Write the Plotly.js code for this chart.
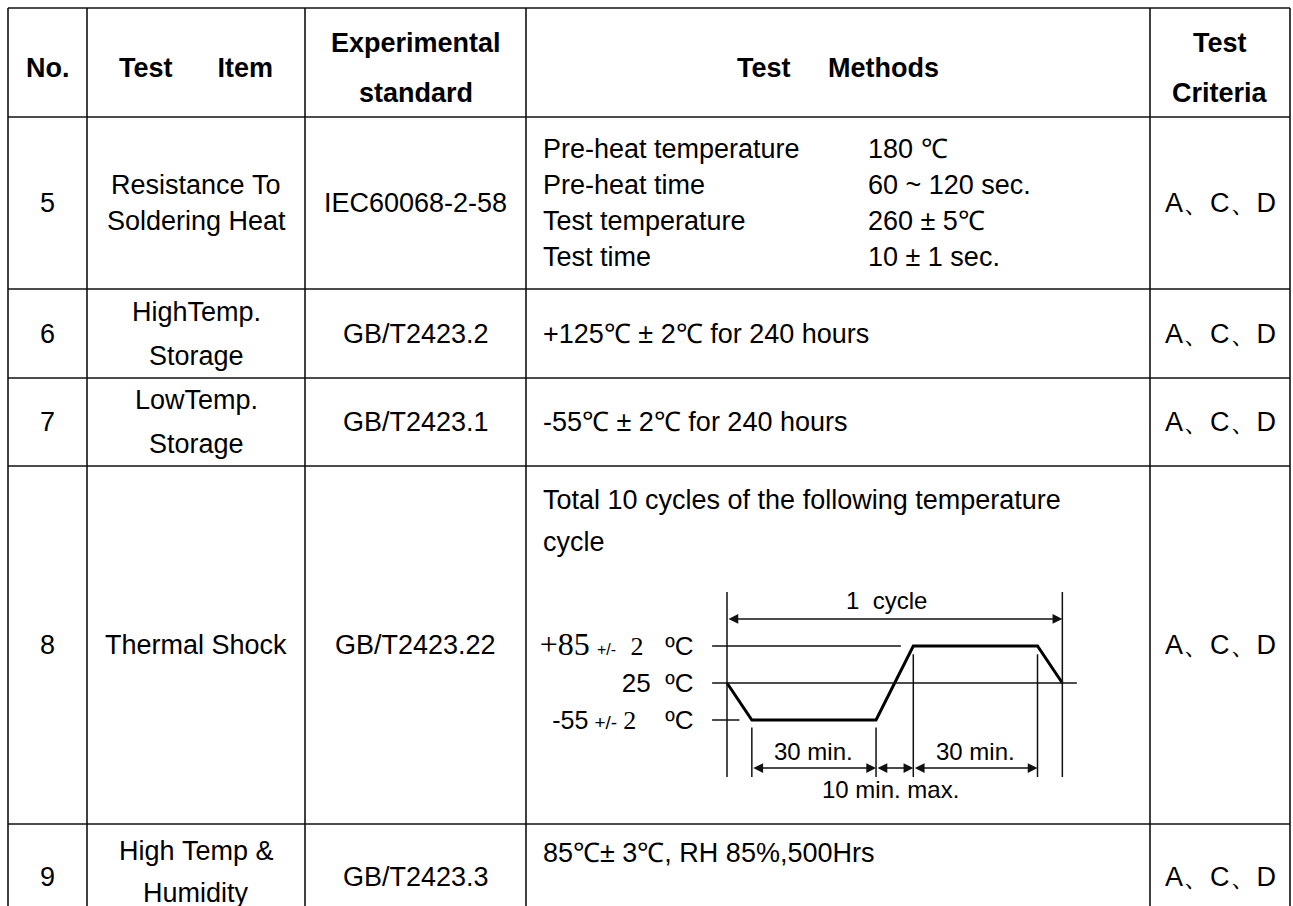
<!DOCTYPE html>
<html>
<head>
<meta charset="utf-8">
<script src="https://cdn.plot.ly/plotly-3.0.1.min.js"></script>
<style>
html,body{margin:0;padding:0;background:#fff;}
#chart{width:1293px;height:906px;}
</style>
</head>
<body>
<div id="chart"></div>
<script>
// ---------------- data ----------------
const headerLines = [['No.'], ['Test      Item'], ['Experimental', 'standard'], ['Test     Methods'], ['Test', 'Criteria']];
const testNos = ['5', '6', '7', '8', '9'];
const testItems = [['Resistance To', 'Soldering Heat'], ['HighTemp.', 'Storage'], ['LowTemp.', 'Storage'], ['Thermal Shock'], ['High Temp &', 'Humidity']];
const standards = ['IEC60068-2-58', 'GB/T2423.2', 'GB/T2423.1', 'GB/T2423.22', 'GB/T2423.3'];
const criteria = ['A、C、D', 'A、C、D', 'A、C、D', 'A、C、D', 'A、C、D'];
const solderParams = ['Pre-heat temperature', 'Pre-heat time', 'Test temperature', 'Test time'];
const solderValues = ['180 ℃', '60 ~ 120 sec.', '260 ± 5℃', '10 ± 1 sec.'];
const storageMethods = ['+125℃ ± 2℃ for 240 hours', '-55℃ ± 2℃ for 240 hours'];
const shockIntro = ['Total 10 cycles of the following temperature', 'cycle'];
const humidityMethod = '85℃± 3℃, RH 85%,500Hrs';

// thermal shock cycle (minutes, temperature level)
const cycleMinutes = [0, 6, 36, 45, 75, 81];
const cycleLevels = ['25', '-55', '-55', '+85', '+85', '25'];
const tempLevels = ['-55', '25', '+85'];
const tempLabelParts = [
  [['-55', 'sans', 25], [' ', 'sans', 22], ['+/-', 'sans', 19], [' ', 'sans', 22], ['2', 'serif', 26], ['    ', 'sans', 26], ['ºC', 'sans', 26]],
  [['25', 'sans', 26], ['  ', 'sans', 26], ['ºC', 'sans', 26]],
  [['+85', 'serif', 32], [' ', 'sans', 26], ['+/-', 'sans', 16], ['  ', 'sans', 26], ['2', 'serif', 26], ['   ', 'sans', 26], ['ºC', 'sans', 26]]
];
const cycleLabel = '1  cycle';
const dwellLabels = ['30 min.', '30 min.'];
const transferLabel = '10 min. max.';

// ---------------- layout constants ----------------
const W = 1293, H = 906;
const SANS = 'Liberation Sans, Arial, Helvetica, sans-serif';
const SERIF = 'Liberation Serif, Times New Roman, serif';
const colX = [8, 87, 305, 526, 1150, 1290];
const rowY = [8, 117, 289, 378, 466, 824, 930];
const padL = 15;
const FS = 27;

const nb = s => s.replace(/ /g, '\u00a0');
const colC = i => (colX[i] + colX[i + 1]) / 2;
const rowC = i => (rowY[i] + rowY[i + 1]) / 2;

const ann = [];
function txt(x, y, text, o) {
  ann.push(Object.assign({
    xref: 'x', yref: 'y', x: x, y: y, text: nb(text), showarrow: false,
    xanchor: 'center', yanchor: 'middle',
    font: {family: SANS, size: FS, color: '#000'}
  }, o || {}));
}

// header
const hMid = rowC(0) + 5;
headerLines.forEach((lines, c) => {
  if (lines.length === 1) {
    txt(colC(c), hMid, '<b>' + nb(lines[0]) + '</b>');
  } else {
    txt(colC(c), hMid - 25, '<b>' + lines[0] + '</b>');
    txt(colC(c), hMid + 25, '<b>' + lines[1] + '</b>');
  }
});

// body rows
const itemPitch = [36, 44, 44, 0, 42];
const itemShift = [0, 0, 0, 0, -5];
testNos.forEach((n, r) => {
  const cy = rowC(r + 1);
  txt(colC(0), cy, n);
  const it = testItems[r];
  const iy = cy + itemShift[r];
  if (it.length === 1) txt(colC(1), iy, it[0]);
  else {
    txt(colC(1), iy - itemPitch[r] / 2, it[0]);
    txt(colC(1), iy + itemPitch[r] / 2, it[1]);
  }
  txt(colC(2), cy, standards[r]);
  txt(colC(4), cy, criteria[r]);
});
// row 5 methods
const r5 = rowC(1);
solderParams.forEach((p, i) => {
  const y = r5 + (i - 1.5) * 36;
  txt(colX[3] + padL, y, p, {xanchor: 'left'});
  txt(866, y, solderValues[i], {xanchor: 'left'});
});
// rows 6,7
storageMethods.forEach((m, i) => txt(colX[3] + padL, rowC(2 + i), m, {xanchor: 'left'}));
// row 8 intro
shockIntro.forEach((m, i) => txt(colX[3] + padL, rowY[4] + 34 + i * 42, m, {xanchor: 'left'}));
// row 9
txt(colX[3] + padL, rowY[5] + 29, humidityMethod, {xanchor: 'left'});

// table grid
const shapes = [];
const LW = 1.6, LC = '#111';
colX.forEach(x => shapes.push({type: 'line', xref: 'x', yref: 'y', x0: x, x1: x, y0: rowY[0], y1: H + 20, line: {color: LC, width: LW}}));
rowY.slice(0, 6).forEach(y => shapes.push({type: 'line', xref: 'x', yref: 'y', x0: colX[0], x1: colX[5], y0: y, y1: y, line: {color: LC, width: LW}}));

// ---------------- diagram axes ----------------
const t0px = 727, pxPerMin = 4.14, tMin = -4, tMax = 85;
const lvl1px = 683, pxPerLvl = 37, lMin = -2.3, lMax = 3.7;
const xd0 = (t0px + tMin * pxPerMin) / W, xd1 = (t0px + tMax * pxPerMin) / W;
const yTopPx = lvl1px - (lMax - 1) * pxPerLvl, yBotPx = lvl1px + (1 - lMin) * pxPerLvl;
const yd0 = 1 - yBotPx / H, yd1 = 1 - yTopPx / H;
const L = v => tempLevels.indexOf(v);

const fam = k => (k === 'serif' ? SERIF : SANS);
const tempLabels = tempLabelParts.map(parts => parts.map(p =>
  '<span style="font-family:' + fam(p[1]) + ';font-size:' + p[2] + 'px">' + nb(p[0]) + '</span>').join(''));

function dline(x0, x1, y0, y1, w) {
  shapes.push({type: 'line', xref: 'x2', yref: 'y2', x0: x0, x1: x1, y0: y0, y1: y1, line: {color: '#111', width: w || 1.5}});
}
const lineStart = -3.6;
dline(lineStart, 42, L('+85'), L('+85'));
dline(lineStart, 84.5, L('25'), L('25'));
dline(lineStart, 3, L('-55'), L('-55'));
// vertical markers
const tallTop = 3.46, tallBot = -1.54;
dline(cycleMinutes[0], cycleMinutes[0], tallBot, tallTop);
dline(cycleMinutes[5], cycleMinutes[5], tallBot, tallTop);
dline(cycleMinutes[1], cycleMinutes[1], tallBot, L('-55') - 0.2);
dline(cycleMinutes[2], cycleMinutes[2], tallBot, L('-55') - 0.2);
dline(cycleMinutes[3], cycleMinutes[3], tallBot, L('+85') - 0.22);
dline(cycleMinutes[4], cycleMinutes[4], tallBot, L('+85') - 0.22);

// arrows
function darrow(xa, xb, y) {
  ann.push({xref: 'x2', yref: 'y2', axref: 'x2', ayref: 'y2', x: xb, y: y, ax: xa, ay: y,
    text: '', showarrow: true, arrowside: 'end+start', arrowhead: 2, startarrowhead: 2,
    arrowsize: 1.3, startarrowsize: 1.3, arrowwidth: 1.5, arrowcolor: '#111', standoff: 0, startstandoff: 0});
}
darrow(cycleMinutes[0], cycleMinutes[5], 2.73);
darrow(cycleMinutes[1], cycleMinutes[2], -1.30);
darrow(cycleMinutes[2], cycleMinutes[3], -1.30);
darrow(cycleMinutes[3], cycleMinutes[4], -1.30);

function dtxt(x, y, t) {
  ann.push({xref: 'x2', yref: 'y2', x: x, y: y, text: nb(t), showarrow: false,
    xanchor: 'center', yanchor: 'middle', font: {family: SANS, size: 24, color: '#000'}});
}
dtxt(38.6, 3.24, cycleLabel);
dtxt((cycleMinutes[1] + cycleMinutes[2]) / 2 - 0.2, -0.86, dwellLabels[0]);
dtxt((cycleMinutes[3] + cycleMinutes[4]) / 2, -0.86, dwellLabels[1]);
dtxt(39.4, -1.89, transferLabel);

const traces = [
  {type: 'scatter', mode: 'lines', x: cycleMinutes, y: cycleLevels, xaxis: 'x2', yaxis: 'y2',
   line: {color: '#000', width: 3}, hoverinfo: 'skip', showlegend: false, cliponaxis: false}
];

const layout = {
  width: W, height: H,
  margin: {l: 0, r: 0, t: 0, b: 0, pad: 0},
  paper_bgcolor: '#fff', plot_bgcolor: 'rgba(0,0,0,0)',
  showlegend: false,
  xaxis: {range: [0, W], visible: false, fixedrange: true, domain: [0, 1]},
  yaxis: {range: [H, 0], visible: false, fixedrange: true, domain: [0, 1]},
  xaxis2: {domain: [xd0, xd1], range: [tMin, tMax], anchor: 'y2', visible: false, fixedrange: true},
  yaxis2: {domain: [yd0, yd1], anchor: 'x2', type: 'category', categoryarray: tempLevels, categoryorder: 'array',
    range: [lMin, lMax], tickmode: 'array', tickvals: tempLevels, ticktext: tempLabels,
    showgrid: false, zeroline: false, showline: false, ticks: '', ticklabelstandoff: 16,
    tickfont: {family: SANS, size: 26, color: '#000'}, fixedrange: true},
  shapes: shapes,
  annotations: ann
};

Plotly.newPlot('chart', traces, layout, {staticPlot: true, displayModeBar: false});
</script>
</body>
</html>
